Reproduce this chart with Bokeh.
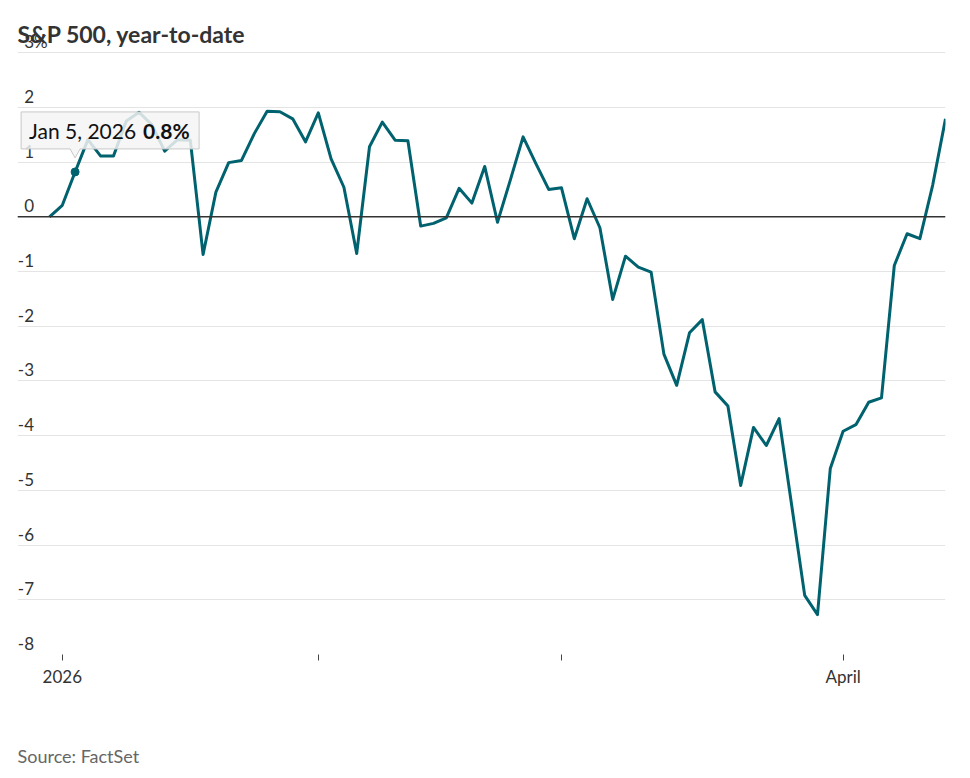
from bokeh.plotting import figure
from bokeh.models import Range1d, FixedTicker, Title, Span
from bokeh.core.properties import value
from bokeh.embed import file_html
from bokeh.resources import INLINE

# ---------------- data ----------------
dates = [
    "2025-12-31",
    "2026-01-02", "2026-01-05", "2026-01-06", "2026-01-07", "2026-01-08", "2026-01-09",
    "2026-01-12", "2026-01-13", "2026-01-14", "2026-01-15", "2026-01-16",
    "2026-01-20", "2026-01-21", "2026-01-22", "2026-01-23",
    "2026-01-26", "2026-01-27", "2026-01-28", "2026-01-29", "2026-01-30",
    "2026-02-02", "2026-02-03", "2026-02-04", "2026-02-05", "2026-02-06",
    "2026-02-09", "2026-02-10", "2026-02-11", "2026-02-12", "2026-02-13",
    "2026-02-17", "2026-02-18", "2026-02-19", "2026-02-20",
    "2026-02-23", "2026-02-24", "2026-02-25", "2026-02-26", "2026-02-27",
    "2026-03-02", "2026-03-03", "2026-03-04", "2026-03-05", "2026-03-06",
    "2026-03-09", "2026-03-10", "2026-03-11", "2026-03-12", "2026-03-13",
    "2026-03-16", "2026-03-17", "2026-03-18", "2026-03-19", "2026-03-20",
    "2026-03-23", "2026-03-24", "2026-03-25", "2026-03-26", "2026-03-27",
    "2026-03-30", "2026-03-31",
    "2026-04-01", "2026-04-02", "2026-04-06", "2026-04-07", "2026-04-08",
    "2026-04-09", "2026-04-10", "2026-04-13", "2026-04-14",
]

ytd_pct = [
    0.00,
    0.21, 0.82, 1.41, 1.11, 1.11, 1.75,
    1.91, 1.68, 1.20, 1.41, 1.40,
    -0.69, 0.45, 0.99, 1.03,
    1.52, 1.93, 1.92, 1.79, 1.37,
    1.90, 1.06, 0.54, -0.67, 1.28,
    1.73, 1.40, 1.39, -0.17, -0.12,
    -0.02, 0.52, 0.25, 0.92,
    -0.10, 0.67, 1.46, 0.97, 0.50,
    0.53, -0.40, 0.33, -0.20, -1.51,
    -0.72, -0.92, -1.01, -2.51, -3.08,
    -2.12, -1.88, -3.20, -3.46, -4.91,
    -3.85, -4.18, -3.69, -5.30, -6.92,
    -7.27, -4.60,
    -3.92, -3.80, -3.39, -3.31, -0.89,
    -0.31, -0.40, 0.58, 1.79,
]

month_tick_idx = [1, 21, 40, 62]
month_tick_labels = ["2026", "", "", "April"]

y_ticks = [3, 2, 1, 0, -1, -2, -3, -4, -5, -6, -7, -8]
y_tick_labels = ["3", "2", "1", "0", "-1", "-2", "-3", "-4", "-5", "-6", "-7", "-8"]
y_unit_suffix = "%"

title_text = "S&P 500, year-to-date"
source_text = "Source: FactSet"

hover_idx = 2
hover_date_text = "Jan 5, 2026"
hover_value_text = "0.8%"

# ---------------- style ----------------
FONT = "Lato"
LINE_COLOR = "#00626e"
GRID_COLOR = "#e4e4e4"
TEXT_COLOR = "#333333"

X0, X1 = -2.5, len(ytd_pct) - 1
Y0, Y1 = -8, 3.35
FW, FH = 928, 621
SX = FW / (X1 - X0)  # px per x unit
SY = FH / (Y1 - Y0)  # px per y unit

idx = list(range(len(ytd_pct)))

p = figure(
    frame_width=FW, frame_height=FH,
    x_range=Range1d(X0, X1), y_range=Range1d(Y0, Y1),
    output_backend="svg", toolbar_location=None,
    min_border_left=17, min_border_right=17, min_border_top=33, min_border_bottom=124,
    outline_line_color=None, background_fill_color="white", border_fill_color="white",
)

# title
p.title.text = title_text
p.title.text_font = FONT
p.title.text_font_size = "23px"
p.title.text_font_style = "bold"
p.title.text_color = TEXT_COLOR
p.title.align = "left"
p.title.offset = 0
p.title.standoff = -28

# source
src = Title(text=source_text, align="left", text_font=FONT, text_font_size="18px",
            text_font_style="normal", text_color="#666666", standoff=106)
p.add_layout(src, "below")

# grid
p.xgrid.visible = False
p.ygrid.ticker = FixedTicker(ticks=y_ticks)
p.ygrid.grid_line_color = GRID_COLOR
p.ygrid.grid_line_width = 1

# axes
p.yaxis.visible = False
xa = p.xaxis[0]
xa.ticker = FixedTicker(ticks=month_tick_idx)
xa.major_label_overrides = {t: lab for t, lab in zip(month_tick_idx, month_tick_labels)}
xa.axis_line_color = None
xa.major_tick_line_color = "#444444"
xa.major_tick_in = 0
xa.major_tick_out = 6
xa.minor_tick_line_color = None
xa.major_label_text_font = FONT
xa.major_label_text_font_size = "17px"
xa.major_label_text_color = TEXT_COLOR
xa.major_label_standoff = 5

# zero line
p.add_layout(Span(location=0, dimension="width", line_color="#333333", line_width=1.6))

# y labels inside the plot, above gridlines
lab_dx = 16.5 / SX
lab_dy = 11 / SY
p.text(x=[X0 + lab_dx] * len(y_ticks), y=[t + lab_dy for t in y_ticks], text=y_tick_labels,
       text_font=value(FONT), text_font_size="17px", text_color=TEXT_COLOR,
       text_align="right", text_baseline="alphabetic")
p.text(x=[X0 + lab_dx], y=[y_ticks[0] + lab_dy], text=[y_unit_suffix],
       text_font=value(FONT), text_font_size="17px", text_color=TEXT_COLOR,
       text_align="left", text_baseline="alphabetic")

# main line
p.line(idx, ytd_pct, line_color=LINE_COLOR, line_width=3, line_join="round")

# hover tooltip (static)
ax, ay = idx[hover_idx], ytd_pct[hover_idx]
def px(dx, dy):
    return ax + dx / SX, ay - dy / SY

L, R, T, B = -54, 124, -60, -23
tip, half = -14, 5
shape = [(L, T), (R, T), (R, B), (half, B), (0, tip), (-half, B), (L, B)]
xs, ys = zip(*[px(a, b) for a, b in shape])
p.patch(list(xs), list(ys), fill_color="#f5f5f5", fill_alpha=0.85,
        line_color="#c8c8c8", line_width=1)
p.scatter([ax], [ay], size=8, color=LINE_COLOR)

tx, ty = px(-46, -41)
p.text(x=[tx], y=[ty], text=[hover_date_text], text_font=value(FONT), text_font_size="21px",
       text_color="#111111", text_align="left", text_baseline="alphabetic")
bx, by = px(68, -41)
p.text(x=[bx], y=[by], text=[hover_value_text], text_font=value(FONT), text_font_size="21px",
       text_font_style="bold", text_color="#111111", text_align="left", text_baseline="alphabetic")

open("out.html", "w").write(file_html(p, INLINE))
